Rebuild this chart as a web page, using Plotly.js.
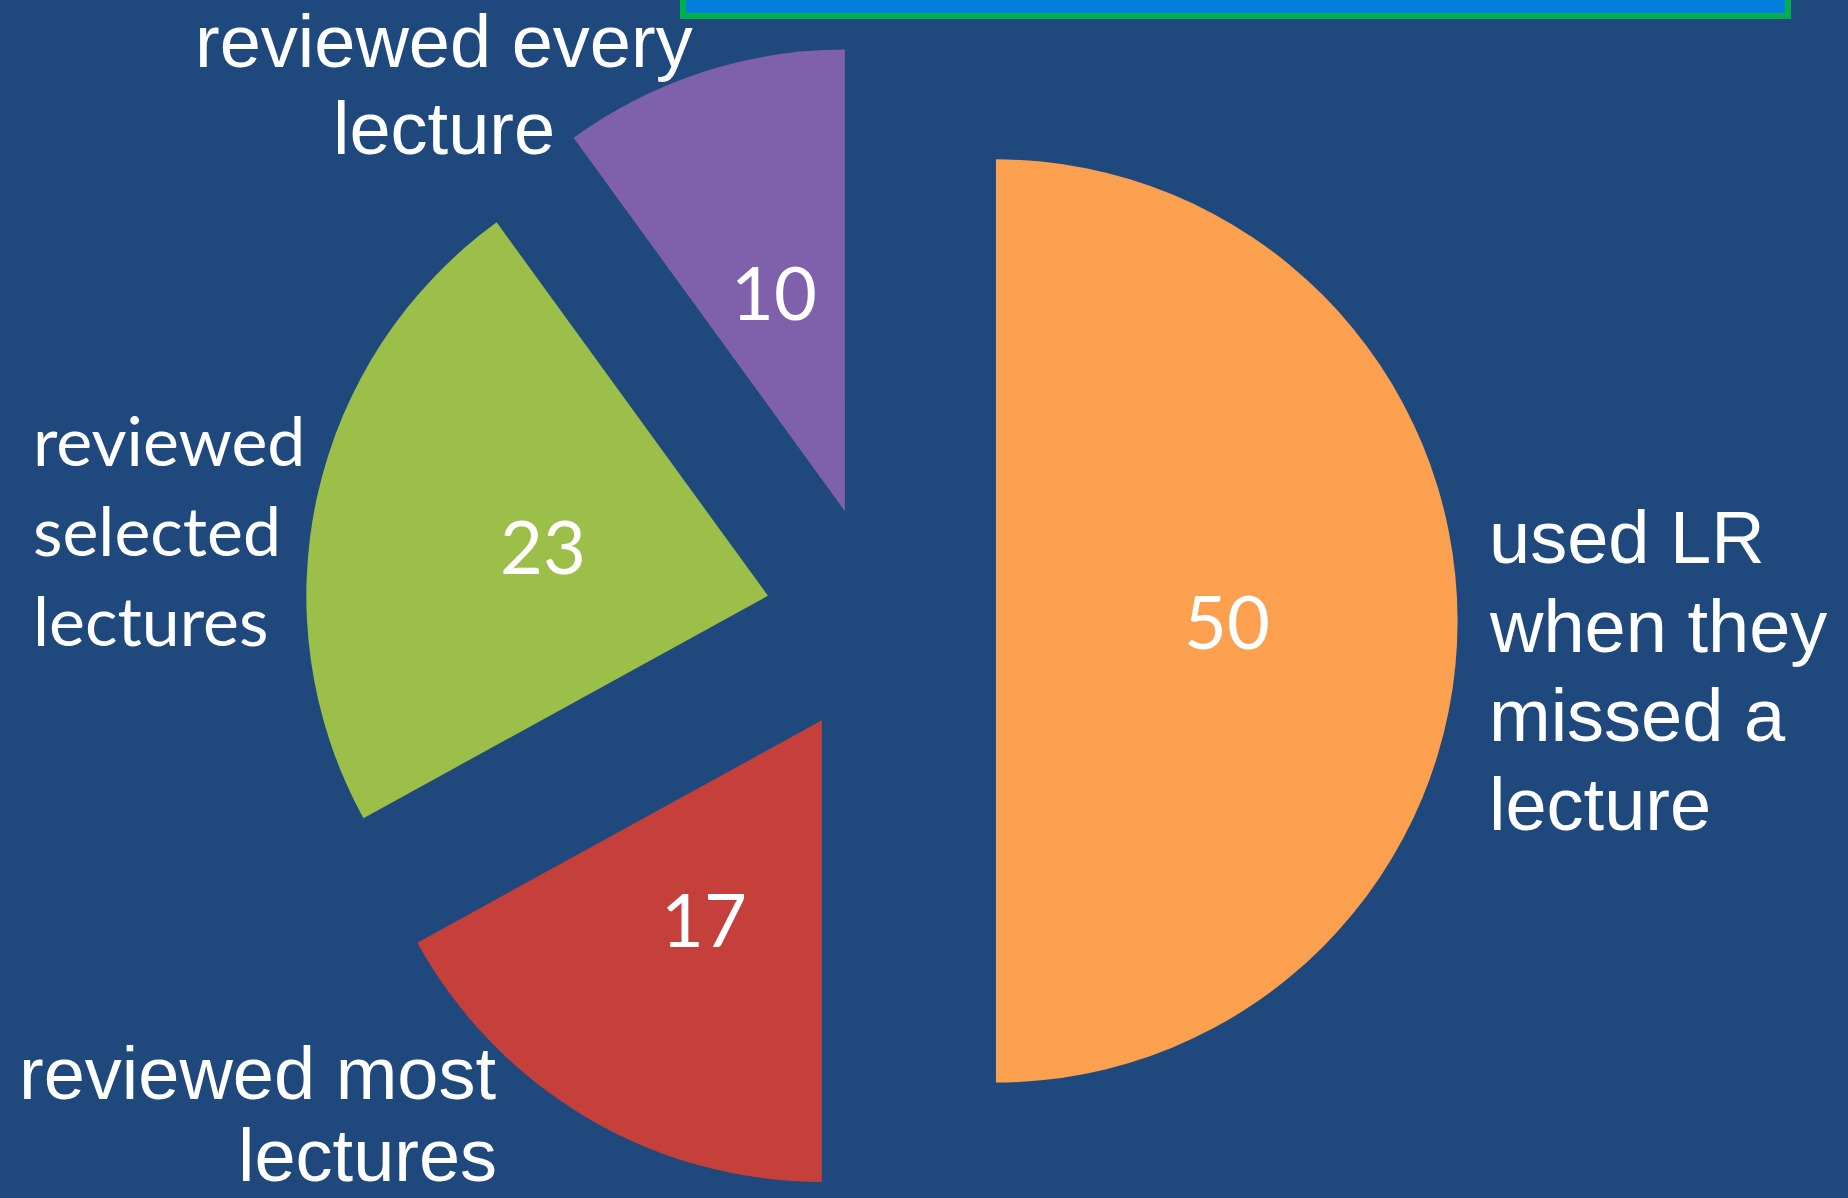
<!DOCTYPE html>
<html><head><meta charset="utf-8">
<script src="https://cdn.plot.ly/plotly-3.0.1.min.js"></script>
<style>html,body{margin:0;padding:0;background:#1F497D;overflow:hidden}</style>
</head><body><div id="chart" style="width:1848px;height:1198px"></div>
<script>
// ---- data ----
const categories = ["used LR when they missed a lecture", "reviewed most lectures", "reviewed selected lectures", "reviewed every lecture"];
const values = [50, 17, 23, 10];
const labelLines = [
  ["used LR", "when they", "missed a", "lecture"],
  ["reviewed most", "lectures"],
  ["reviewed", "selected", "lectures"],
  ["reviewed every", "lecture"]
];

// ---- styles / placement ----
const W = 1848, H = 1198;
const sliceColors = ["#FBA04E", "#C5403B", "#9CBF49", "#7F60AB"];
const PULL = 0.25;
const dom = {x: [0.1635, 0.7895], y: [0, 0.9633]};
// outside label placement: anchor x (px), alignment, first baseline (px), line step (px), font
const labelPlace = [
  {x: 1487, anchor: 'left',   base: 563, step: 89, family: 'Liberation Sans, Arial, sans-serif', size: 74},
  {x: 499,  anchor: 'right',  base: 1099, step: 82, family: 'Liberation Sans, Arial, sans-serif', size: 74},
  {x: 31,   anchor: 'left',   base: 463, step: 90, family: 'Lato, sans-serif', size: 68},
  {x: 444,  anchor: 'center', base: 67,  step: 87, family: 'Liberation Sans, Arial, sans-serif', size: 74}
];

const annotations = [];
labelLines.forEach((lines, i) => {
  const p = labelPlace[i];
  lines.forEach((t, j) => {
    const baseline = p.base + j * p.step;
    const center = baseline - 0.35 * p.size;
    annotations.push({
      xref: 'paper', yref: 'paper', x: p.x / W, y: 1 - center / H,
      xanchor: p.anchor, yanchor: 'middle', showarrow: false, text: t,
      font: {family: p.family, size: p.size, color: '#FFFFFF'}
    });
  });
});

// value labels at half radius along each pulled slice's bisector
const total = values.reduce((a, b) => a + b, 0);
const boxW = W * (dom.x[1] - dom.x[0]), boxH = H * (dom.y[1] - dom.y[0]);
const r = Math.min(boxW, boxH) / 2 / (1 + PULL);
const cx = W * (dom.x[0] + dom.x[1]) / 2;
const cy = H * (1 - dom.y[0]) - boxH / 2;
let cum = 0;
values.forEach((v) => {
  const mid = (cum + v / 2) / total * 2 * Math.PI;
  cum += v;
  const d = r * (PULL + 0.5);
  const px = cx + d * Math.sin(mid), py = cy - d * Math.cos(mid);
  annotations.push({
    xref: 'paper', yref: 'paper', x: px / W, y: 1 - py / H,
    xanchor: 'center', yanchor: 'middle', showarrow: false, text: String(v),
    font: {family: 'Lato, sans-serif', size: 74, color: '#FFFFFF'}
  });
});

const trace = {
  type: 'pie',
  labels: categories,
  values: values,
  sort: false,
  direction: 'clockwise',
  rotation: 0,
  pull: PULL,
  textinfo: 'none',
  hoverinfo: 'label+value',
  marker: {colors: sliceColors, line: {width: 0}},
  domain: dom,
  showlegend: false
};

const layout = {
  width: W, height: H,
  margin: {l: 0, r: 0, t: 0, b: 0},
  paper_bgcolor: '#1F497D',
  plot_bgcolor: '#1F497D',
  showlegend: false,
  annotations: annotations,
  shapes: [{
    type: 'rect', xref: 'paper', yref: 'paper',
    x0: 683 / W, x1: 1788 / W, y0: 1 - 16 / H, y1: 1.05,
    fillcolor: '#0080DC', line: {color: '#00B050', width: 6}
  }]
};

Plotly.newPlot('chart', [trace], layout, {displayModeBar: false, staticPlot: true});
</script>
</body></html>
